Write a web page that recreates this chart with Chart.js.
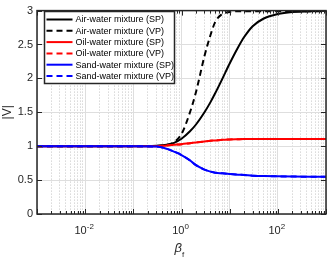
<!DOCTYPE html>
<html>
<head>
<meta charset="utf-8">
<script src="https://cdn.jsdelivr.net/npm/chart.js@4"></script>
<style>
  html, body { margin: 0; padding: 0; background: #ffffff; }
  canvas { display: block; }
</style>
</head>
<body>
<canvas id="velChart" width="327" height="260"></canvas>
<script>
// ===========================
// DATA
// ===========================

const betaValues = [0.001, 0.01, 0.1, 0.3, 0.5, 0.7, 1, 1.5, 2, 3, 4, 5, 7, 10, 15, 20, 30, 50, 100, 200, 500, 1000];

const airSP = [1, 1, 1, 1.005, 1.02, 1.05, 1.11, 1.22, 1.32, 1.5, 1.65, 1.78, 1.99, 2.22, 2.46, 2.61, 2.77, 2.88, 2.95, 2.98, 2.99, 2.995];
const airVP = [1, 1, 1, 1.003, 1.02, 1.06, 1.18, 1.5, 1.8, 2.33, 2.64, 2.83, 2.95, 2.98, 2.99, 2.99, 2.99, 2.99, 2.99, 2.99, 2.99, 2.99];
const oilSP = [1, 1, 1, 1, 1.01, 1.02, 1.03, 1.045, 1.055, 1.07, 1.08, 1.085, 1.095, 1.1, 1.103, 1.105, 1.107, 1.108, 1.108, 1.108, 1.108, 1.108];
const oilVP = [1, 1, 1, 1, 1.01, 1.02, 1.03, 1.045, 1.055, 1.07, 1.08, 1.085, 1.095, 1.1, 1.103, 1.105, 1.107, 1.108, 1.108, 1.108, 1.108, 1.108];
const sandSP = [1, 1, 1, 0.995, 0.96, 0.92, 0.87, 0.79, 0.72, 0.655, 0.625, 0.61, 0.6, 0.59, 0.58, 0.575, 0.565, 0.56, 0.555, 0.552, 0.55, 0.55];
const sandVP = [1, 1, 1, 0.995, 0.96, 0.92, 0.87, 0.79, 0.72, 0.655, 0.625, 0.61, 0.6, 0.59, 0.58, 0.575, 0.565, 0.56, 0.555, 0.552, 0.55, 0.55];

const seriesLabels = [
  "Air-water mixture (SP)",
  "Air-water mixture (VP)",
  "Oil-water mixture (SP)",
  "Oil-water mixture (VP)",
  "Sand-water mixture (SP)",
  "Sand-water mixture (VP)",
];

const xTickExponents = [-2, 0, 2];
const yTickValues = [0, 0.5, 1, 1.5, 2, 2.5, 3];

// ===========================
// STYLE
// ===========================

const FONT = "'Liberation Sans', Arial, Helvetica, sans-serif";
const TEXT_COLOR = "#262626";
const MAJOR_GRID = "#dedede";
const MINOR_GRID = "#c4c4c4";
const DASH = [6, 4];

function isDecade(v) {
  const e = Math.log10(v);
  return Math.abs(e - Math.round(e)) < 1e-9;
}

function toPoints(values) {
  return betaValues.map((b, i) => ({ x: b, y: values[i] }));
}

function makeSeries(label, values, color, dashed, order) {
  return {
    label: label,
    data: toPoints(values),
    borderColor: color,
    backgroundColor: color,
    borderWidth: 2,
    borderDash: dashed ? DASH : [],
    pointRadius: 0,
    cubicInterpolationMode: "monotone",
    fill: false,
    order: order,
  };
}

// ===========================
// FRAME, TICKS, LABELS, LEGEND
// ===========================

const framePlugin = {
  id: "frame",
  afterDraw(chart) {
    const { ctx, chartArea: a, scales } = chart;
    const xs = scales.x;
    const ys = scales.y;
    ctx.save();

    // inward tick marks
    ctx.strokeStyle = TEXT_COLOR;
    ctx.lineWidth = 1;
    ctx.beginPath();
    xs.ticks.forEach((t) => {
      const px = Math.round(xs.getPixelForValue(t.value)) + 0.5;
      const len = isDecade(t.value) ? 5 : 3;
      ctx.moveTo(px, a.bottom);
      ctx.lineTo(px, a.bottom - len);
      ctx.moveTo(px, a.top);
      ctx.lineTo(px, a.top + len);
    });
    yTickValues.forEach((v) => {
      const py = Math.round(ys.getPixelForValue(v)) + 0.5;
      ctx.moveTo(a.left, py);
      ctx.lineTo(a.left + 5, py);
      ctx.moveTo(a.right, py);
      ctx.lineTo(a.right - 5, py);
    });
    ctx.stroke();

    // axes box
    ctx.lineWidth = 1.5;
    ctx.strokeStyle = "#262626";
    ctx.strokeRect(a.left, a.top, a.right - a.left, a.bottom - a.top);

    // x tick labels: 10 with superscript exponent
    ctx.fillStyle = TEXT_COLOR;
    ctx.textBaseline = "alphabetic";
    ctx.textAlign = "left";
    xTickExponents.forEach((e) => {
      const px = xs.getPixelForValue(Math.pow(10, e));
      const base = "10";
      const sup = e < 0 ? "-" + Math.abs(e) : String(e);
      ctx.font = "11px " + FONT;
      const wBase = ctx.measureText(base).width;
      ctx.font = "8px " + FONT;
      const wSup = ctx.measureText(sup).width;
      const x0 = px - (wBase + wSup) / 2 - 1;
      ctx.font = "11px " + FONT;
      ctx.fillText(base, x0, a.bottom + 20);
      ctx.font = "8px " + FONT;
      ctx.fillText(sup, x0 + wBase, a.bottom + 15);
    });

    // x axis title: beta with subscript f
    const cx = (a.left + a.right) / 2;
    ctx.font = "italic 13px " + FONT;
    const wB = ctx.measureText("\u03b2").width;
    ctx.fillText("\u03b2", cx - 7, a.bottom + 38);
    ctx.font = "8px " + FONT;
    ctx.fillText("f", cx - 7 + wB, a.bottom + 43);

    // legend box
    const lx = 44.5, ly = 11.5, lw = 130, lh = 72;
    ctx.fillStyle = "#ffffff";
    ctx.fillRect(lx, ly, lw, lh);
    ctx.strokeStyle = "#262626";
    ctx.lineWidth = 1.5;
    ctx.strokeRect(lx, ly, lw, lh);
    ctx.font = "9px " + FONT;
    ctx.textBaseline = "middle";
    chart.data.datasets.forEach((ds, i) => {
      const ry = ly + 8 + i * 11.3;
      ctx.strokeStyle = ds.borderColor;
      ctx.lineWidth = 2;
      ctx.setLineDash(ds.borderDash);
      ctx.beginPath();
      ctx.moveTo(lx + 2, ry);
      ctx.lineTo(lx + 28, ry);
      ctx.stroke();
      ctx.setLineDash([]);
      ctx.fillStyle = "#000000";
      ctx.fillText(ds.label, lx + 31, ry + 0.5);
    });

    ctx.restore();
  },
};

// ===========================
// CHART
// ===========================

const ctx = document.getElementById("velChart").getContext("2d");

new Chart(ctx, {
  type: "line",
  data: {
    datasets: [
      makeSeries(seriesLabels[0], airSP, "#000000", false, 6),
      makeSeries(seriesLabels[1], airVP, "#000000", true, 5),
      makeSeries(seriesLabels[2], oilSP, "#ff0000", false, 4),
      makeSeries(seriesLabels[3], oilVP, "#ff0000", true, 3),
      makeSeries(seriesLabels[4], sandSP, "#0000ff", false, 2),
      makeSeries(seriesLabels[5], sandVP, "#0000ff", true, 1),
    ],
  },
  options: {
    responsive: false,
    animation: false,
    devicePixelRatio: 1,
    layout: { padding: { top: 5, right: 1, left: 0, bottom: 0 } },
    plugins: {
      legend: { display: false },
      tooltip: { enabled: false },
    },
    scales: {
      x: {
        type: "logarithmic",
        min: 0.001,
        max: 1000,
        afterBuildTicks: (scale) => {
          const vals = [];
          for (let e = -3; e < 3; e++) {
            for (let k = 1; k <= 9; k++) vals.push(k * Math.pow(10, e));
          }
          vals.push(1000);
          scale.ticks = vals.map((v) => ({ value: v }));
        },
        afterFit: (scale) => {
          scale.height = 46;
        },
        ticks: { display: false, autoSkip: false },
        grid: {
          drawTicks: false,
          color: (c) => (c.tick && isDecade(c.tick.value) ? MAJOR_GRID : MINOR_GRID),
          lineWidth: 1,
        },
        border: {
          display: false,
          dash: (c) => (c.tick && isDecade(c.tick.value) ? [] : [1, 2]),
        },
      },
      y: {
        min: 0,
        max: 3,
        afterFit: (scale) => {
          scale.width = 37;
        },
        ticks: {
          stepSize: 0.5,
          padding: 4,
          color: TEXT_COLOR,
          font: { family: FONT, size: 11 },
          callback: (v) => String(v),
        },
        grid: { drawTicks: false, color: MAJOR_GRID, lineWidth: 1 },
        border: { display: false },
        title: {
          display: true,
          text: "|V|",
          color: TEXT_COLOR,
          font: { family: FONT, size: 12 },
          padding: { top: 0, bottom: 0 },
        },
      },
    },
  },
  plugins: [framePlugin],
});
</script>
</body>
</html>
